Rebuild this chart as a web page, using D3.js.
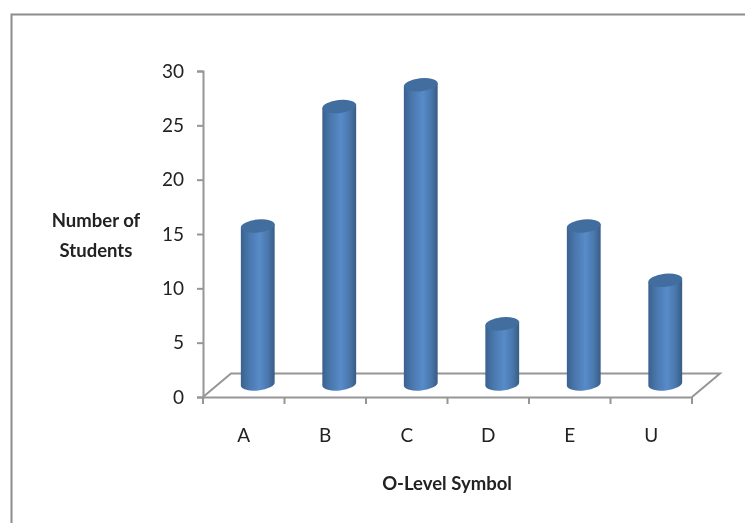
<!DOCTYPE html>
<html>
<head>
<meta charset="utf-8">
<script src="https://cdn.jsdelivr.net/npm/d3@7"></script>
<style>
body { margin: 0; background: #fff; }
svg { filter: blur(0.45px); }
text { font-family: Lato, "Open Sans", sans-serif; fill: #222; }
.axis path, .axis line, .floor { stroke: #969696; stroke-width: 2; fill: none; }
.axis text { font-size: 19px; }
.title { font-size: 18.5px; font-weight: bold; text-anchor: middle; }
</style>
</head>
<body>
<div id="vis"></div>
<script>
const symbols = ['A', 'B', 'C', 'D', 'E', 'U'];
const students = [15, 26, 28, 6, 15, 10];
const yTicks = [0, 5, 10, 15, 20, 25, 30];

const width = 745, height = 523;
const margin = {top: 71, right: 53, bottom: 126, left: 203};

// how far the back of the 3d floor sits from the front
const depthX = 28, depthY = 23.5;
const rx = 17, ry = 6.5, tilt = -6;

const svg = d3.select('#vis').append('svg')
    .attr('width', width)
    .attr('height', height)
    .style('display', 'block');

const defs = svg.append('defs');
const grad = defs.append('linearGradient').attr('id', 'cyl');
grad.append('stop').attr('offset', '0%').attr('stop-color', '#3a618f');
grad.append('stop').attr('offset', '25%').attr('stop-color', '#4a78ae');
grad.append('stop').attr('offset', '55%').attr('stop-color', '#578bc9');
grad.append('stop').attr('offset', '80%').attr('stop-color', '#4a78ad');
grad.append('stop').attr('offset', '100%').attr('stop-color', '#385c85');

// outer frame
svg.append('path')
    .attr('d', `M11.5,${height}V14.5H${width}`)
    .attr('fill', 'none')
    .attr('stroke', '#8c8c8c')
    .attr('stroke-width', 2);

const xScale = d3.scaleBand()
    .domain(symbols)
    .range([margin.left, width - margin.right]);

const yScale = d3.scaleLinear()
    .domain([0, 30])
    .range([height - margin.bottom, margin.top]);

const y0 = yScale(0);
const xEnd = xScale.range()[1];

// floor
svg.append('path')
    .attr('class', 'floor')
    .attr('d', `M${margin.left},${y0}L${margin.left + depthX},${y0 - depthY}H${xEnd + depthX}L${xEnd},${y0}`);

svg.append('g')
    .attr('class', 'axis')
    .attr('transform', `translate(0,${y0})`)
    .call(d3.axisBottom(xScale).tickSize(0).tickSizeOuter(0).tickPadding(32));

// ticks on the category axis go between the bars
svg.append('g')
    .attr('class', 'axis')
    .selectAll('line')
    .data(symbols.concat('end'))
    .join('line')
    .attr('x1', (d, i) => margin.left + i * xScale.step())
    .attr('x2', (d, i) => margin.left + i * xScale.step())
    .attr('y1', y0)
    .attr('y2', y0 + 7);

svg.append('g')
    .attr('class', 'axis')
    .attr('transform', `translate(${margin.left},0)`)
    .call(d3.axisLeft(yScale).tickValues(yTicks).tickSize(6).tickSizeOuter(6).tickPadding(13));

// cylinders
const rad = tilt * Math.PI / 180;
const dx = rx * Math.cos(rad), dy = rx * Math.sin(rad);
const bars = svg.append('g').selectAll('g')
    .data(symbols.map((s, i) => ({s, v: students[i]})))
    .join('g');

function cx(d) { return xScale(d.s) + xScale.bandwidth() / 2 + depthX / 2; }
function topY(d) { return yScale(d.v) - 8; }
const baseY = y0 - 13;

bars.append('path')
    .attr('fill', 'url(#cyl)')
    .attr('d', d => `M${cx(d) - dx},${topY(d) - dy}L${cx(d) - dx},${baseY - dy}` +
        `A${rx},${ry} ${tilt} 0 0 ${cx(d) + dx},${baseY + dy}L${cx(d) + dx},${topY(d) + dy}Z`);

bars.append('ellipse')
    .attr('rx', rx)
    .attr('ry', ry)
    .attr('fill', '#416d9f')
    .attr('transform', d => `translate(${cx(d)},${topY(d)}) rotate(${tilt})`);

// axis titles
const yTitle = svg.append('text').attr('class', 'title');
yTitle.append('tspan').attr('x', 96).attr('y', 227).text('Number of');
yTitle.append('tspan').attr('x', 96).attr('y', 257).text('Students');

svg.append('text')
    .attr('class', 'title')
    .attr('x', 447)
    .attr('y', 490)
    .text('O-Level Symbol');
</script>
</body>
</html>
